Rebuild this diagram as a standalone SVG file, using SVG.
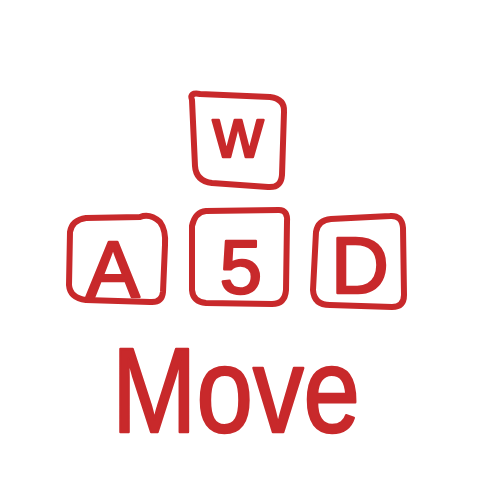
<svg xmlns="http://www.w3.org/2000/svg" width="500" height="500" viewBox="0 0 500 500">
<style>
.key{fill:none;stroke:#c8292b;stroke-width:6;stroke-linejoin:round;stroke-linecap:round}
.lbl{fill:#c8292b;stroke:#c8292b;stroke-width:2.5;stroke-linejoin:round;font-family:"Liberation Sans",Arial,sans-serif;text-anchor:middle}
</style>
<rect width="500" height="500" fill="#ffffff"/>
<g id="key-w">
<path class="key" d="M192,100 Q189,92 200,94 L270,97 Q285,99 284,112 L282,175 Q281,188 268,187 L212,183 Q196,181 195,166 Z"/>
<text class="lbl" x="238" y="157" font-size="70">w</text>
</g>
<g id="key-a">
<path class="key" d="M70,232 Q72,220 86,218 L140,217 Q150,213 160,222 Q166,230 165,245 L163,292 Q162,303 150,302 L86,300 Q70,298 69,285 Z"/>
<text class="lbl" x="113" y="297" font-size="80">A</text>
</g>
<g id="key-s">
<path class="key" d="M192,226 Q195,212 206,211 L279,210 Q288,210 287,222 L286,290 Q285,304 272,304 L206,303 Q193,302 192,290 Z"/>
<text class="lbl" x="241" y="293" font-size="76">5</text>
</g>
<g id="key-d">
<path class="key" d="M316,232 Q318,220 331,219 L390,216 Q402,215 403,228 L404,295 Q404,307 392,307 L330,305 Q314,305 313,290 Z"/>
<text class="lbl" x="360" y="293" font-size="80">D</text>
</g>
<g id="caption">
<text class="lbl" x="236" y="432" font-size="120" textLength="248" lengthAdjust="spacingAndGlyphs">Move</text>
</g>
</svg>
